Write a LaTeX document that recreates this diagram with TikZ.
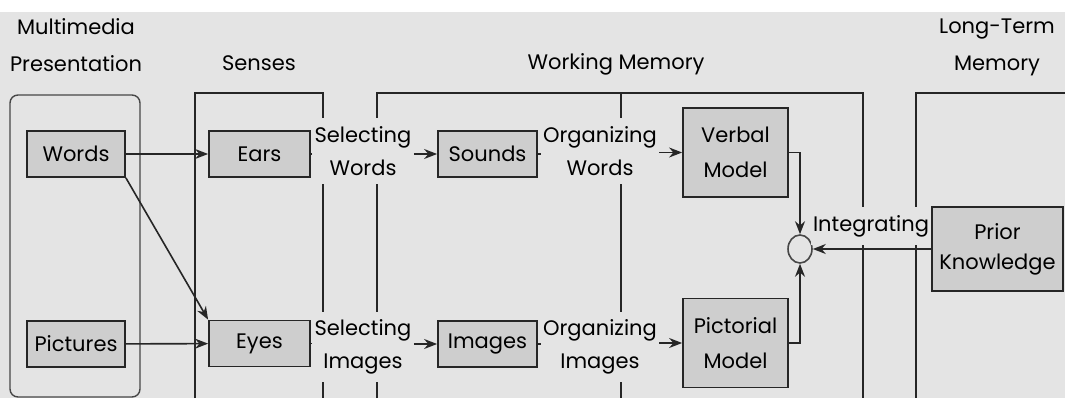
\documentclass[tikz,border=0pt]{standalone}
\usepackage{fontspec}
\setmainfont{Poppins}
\usepackage{tikz}
\usetikzlibrary{positioning,shapes.geometric,arrows.meta}
\definecolor{cmpaper}{HTML}{E4E4E4}
\definecolor{cmbox}{HTML}{CECECE}
\definecolor{cmink}{HTML}{262626}
\newcommand{\cmtext}{\fontsize{10.5}{16.5}\selectfont}
\newcommand{\cmhead}{\fontsize{10.5}{18.5}\selectfont}

\begin{document}
\begin{tikzpicture}[x=0.5pt, y=-0.5pt,
  stage/.style ={draw=cmink, line width=0.9pt},
  unit/.style  ={draw=cmink, fill=cmbox, line width=0.9pt, inner sep=0pt,
                 minimum width=49pt, minimum height=23pt, font=\cmtext},
  model/.style ={unit, align=center, minimum width=52.5pt, minimum height=44.5pt,
                 font=\fontsize{10.5}{17.5}\selectfont},
  proc/.style  ={fill=cmpaper, align=center, inner xsep=1pt, inner ysep=4pt, font=\cmtext},
  head/.style  ={align=center, inner sep=0pt, font=\cmhead},
  flow/.style  ={draw=cmink, line width=0.8pt, -{Stealth[length=6.5pt,width=5pt]}},
]
% page: white margin strips, grey panel (1 unit = 1 px)
\useasboundingbox (0,0) rectangle (1065,401);
\fill[white] (0,0) rectangle (1065,401);
\fill[cmpaper] (0,12) rectangle (1065,398);

% column headings
\node[head] (hPres)  at (76,45)  {Multimedia\\Presentation};
\node[head] (hSense) at (259,63) {Senses};
\node[head] (hWork)  at (616,64) {Working Memory};
\node[head] (hLong)  at (997,47) {Long-Term\\Memory};

% stage frames (open at the bottom)
\draw[cmink!85, line width=0.7pt, rounded corners=4pt] (10,95) rectangle (140,397);
\foreach \l/\r in {195/323, 377/863}
  \draw[stage] (\l,398) -- (\l,93) -- (\r,93) -- (\r,398);
\draw[stage] (621,93) -- (621,398);
\draw[stage] (1065,93) -- (916,93) -- (916,398);

% boxes
\node[unit] (words)    at (76,154)    {Words};
\node[unit] (pictures) at (76,344)    {Pictures};
\node[unit, minimum width=50.5pt] (ears) at (259.5,154) {Ears};
\node[unit, minimum width=50.5pt] (eyes) at (259.5,343.5) {Eyes};
\node[unit, minimum width=49.5pt] (sounds) at (487.5,154) {Sounds};
\node[unit, minimum width=49.5pt] (images) at (487.5,344) {Images};
\node[model] (verbal)    at (735.5,152.5) {Verbal\\Model};
\node[model] (pictorial) at (735.5,343)   {Pictorial\\Model};
\node[unit, align=center, minimum width=65.5pt, minimum height=42pt,
      font=\fontsize{10.5}{15}\selectfont] (prior) at (997.5,249) {Prior\\Knowledge};
\node[ellipse, draw=cmink!85, line width=0.8pt, inner sep=0pt,
      minimum width=12pt, minimum height=14pt] (join) at (800,249) {};

% process labels (they break the frame lines)
\node[proc] (selW) at (363,151) {Selecting\\Words};
\node[proc] (selI) at (363,347) {Selecting\\Images};
\node[proc] (orgW) at (600,151) {Organizing\\Words};
\node[proc] (orgI) at (600,347) {Organizing\\Images};
\node[proc] (integ) at (871,226) {Integrating};

% connections
\draw[flow] (words) -- (ears);
\draw[flow] (words.south east) -- (eyes.north west);
\draw[flow] (pictures) -- (eyes);
\draw[stage] (ears.east) -- (selW.west |- ears.east);
\draw[stage] (eyes.east) -- (selI.west |- eyes.east);
\draw[flow] (selW.east |- sounds.west) -- (sounds.west);
\draw[flow] (selI.east |- images.west) -- (images.west);
\draw[stage] (sounds.east) -- (orgW.west |- sounds.east);
\draw[stage] (images.east) -- (orgI.west |- images.east);
\draw[flow] (orgW.east |- verbal.west) -- (verbal.west);
\draw[flow] (orgI.east |- pictorial.west) -- (pictorial.west);
\draw[flow] (verbal.east) -| (join.north);
\draw[flow] (pictorial.east) -| (join.south);
\draw[flow] (prior.west) -- (join.east);
\end{tikzpicture}
\end{document}
